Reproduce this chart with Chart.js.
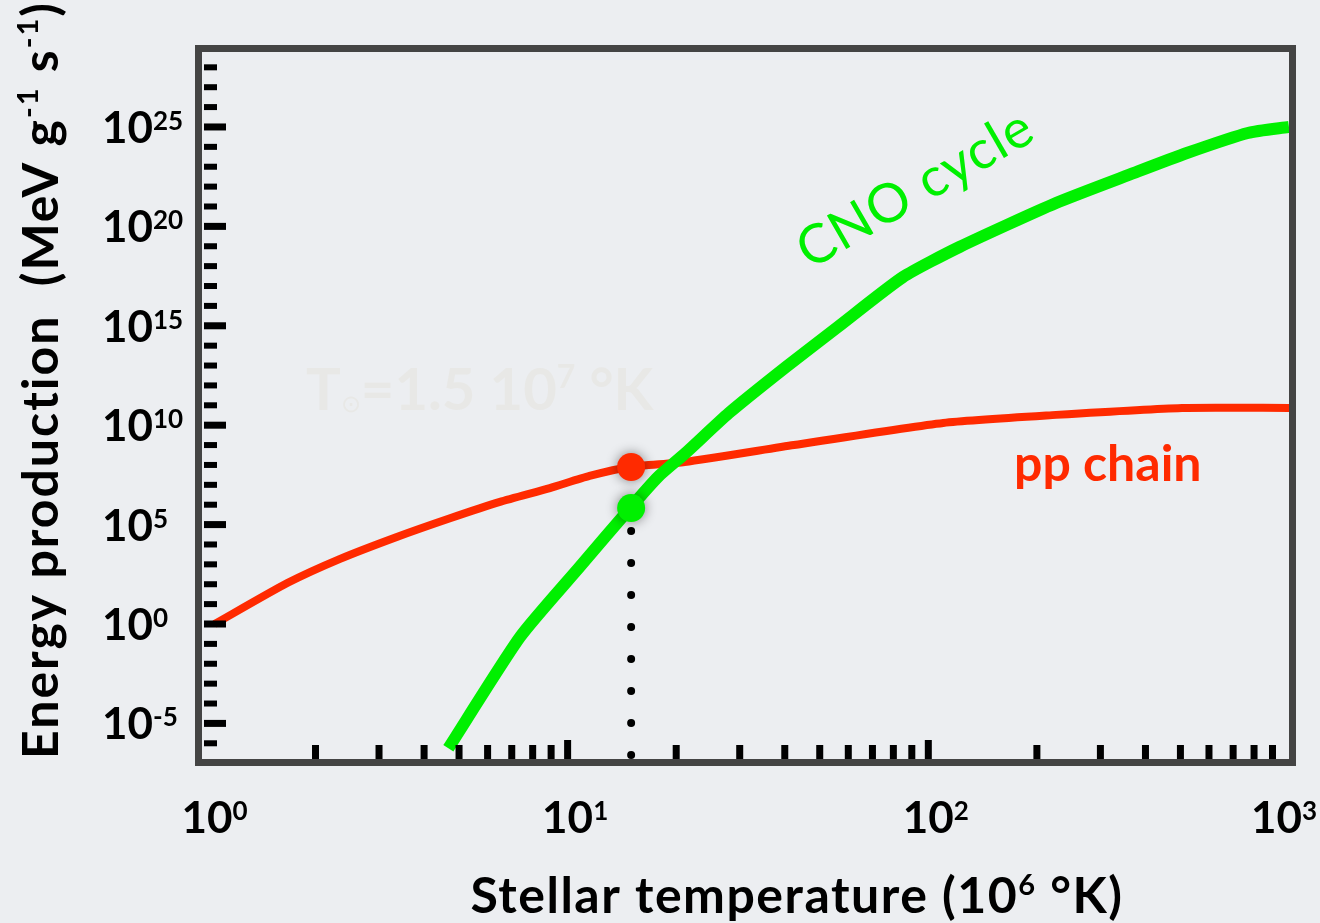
<!DOCTYPE html>
<html lang="en">
<head>
<meta charset="UTF-8">
<title>Energy production: pp chain and CNO cycle</title>
<script src="https://cdn.jsdelivr.net/npm/chart.js"></script>
<style>
    body { margin: 0; background: #eceef1; }
    canvas { display: block; }
</style>
</head>
<body>
<canvas id="rateChart" width="1320" height="923"></canvas>

<script>
    // stellar temperature in units of 10^6 K, energy production in MeV g^-1 s^-1
    const ppTemp  = [1.05, 1.67, 2.34, 3.36, 4.72, 6.49, 8.93, 11.5, 14.9, 21.1, 42.4, 110, 226, 505, 1000];
    const ppRate  = [1, 1.15e2, 1.9e3, 2.4e4, 2.1e5, 1.4e6, 6.9e6, 2.8e7, 7.9e7, 1.4e8, 1.0e9, 1.3e10, 3.3e10, 7.4e10, 7.4e10];

    const cnoTemp = [4.67, 7.38, 10.8, 14.9, 17.8, 21.2, 28.0, 40.3, 56.1, 85.0, 122, 226, 372, 521, 769, 1000];
    const cnoRate = [5.6e-7, 0.22, 7.4e2, 6.8e5, 2.5e7, 3.9e8, 4.1e10, 8.5e12, 8.7e14, 2.8e17, 9.2e18, 1.5e21, 4.9e22, 4.9e23, 5.0e24, 1.0e25];

    // the Sun's core, 1.5 10^7 K
    const sunTemp = 15;
    const sunPp = 7.9e7;
    const sunCno = 6.8e5;
    const guideBottom = 2.6e-7;

    // axis ticks (labels are powers of ten)
    const xLabelExp = [0, 1, 2, 3];
    const yLabelExp = [-5, 0, 5, 10, 15, 20, 25];
    const xMajorTicks = [10, 100];
    const xMinorTicks = [2, 3, 4, 5, 6, 7, 8, 9, 20, 30, 40, 50, 60, 70, 80, 90, 200, 300, 400, 500, 600, 700, 800, 900];
    const yTickExp = [];
    for (let e = -6; e <= 28; e++) yTickExp.push(e);

    const RED = '#ff2a00';
    const GREEN = '#00f000';
    const FONT = 'Lato';

    function runFont(r) {
        return (r.weight || 'bold') + ' ' + r.size + 'px ' + FONT;
    }
    function runsWidth(ctx, runs) {
        let w = 0;
        runs.forEach(r => { ctx.font = runFont(r); w += ctx.measureText(r.t).width; });
        return w;
    }
    // draws text pieces one after another, superscripts get a rise
    function drawRuns(ctx, runs, x, y) {
        let cx = x;
        ctx.textAlign = 'left';
        ctx.textBaseline = 'alphabetic';
        runs.forEach(r => {
            ctx.font = runFont(r);
            ctx.fillText(r.t, cx, y - (r.rise || 0));
            cx += ctx.measureText(r.t).width;
        });
    }

    const decorations = {
        id: 'decorations',
        beforeDatasetsDraw(chart) {
            const ctx = chart.ctx;
            // faint note behind the curves
            ctx.save();
            ctx.fillStyle = '#e8e8e6';
            drawRuns(ctx, [
                {t: 'T', size: 58},
                {t: '\u2299', size: 24, rise: -2, weight: 'normal'},
                {t: '=1.5 10', size: 58},
                {t: '7', size: 32, rise: 22},
                {t: ' \u00b0K', size: 58}
            ], 306, 410);
            ctx.restore();
        },
        beforeDatasetDraw(chart, args) {
            if (args.index === 3) {
                const ctx = chart.ctx;
                ctx.save();
                ctx.shadowColor = 'rgba(0,0,0,0.45)';
                ctx.shadowBlur = 12;
            }
        },
        afterDatasetDraw(chart, args) {
            if (args.index === 3) chart.ctx.restore();
        },
        afterDatasetsDraw(chart) {
            const ctx = chart.ctx;
            const area = chart.chartArea;
            const xs = chart.scales.x;
            const ys = chart.scales.y;
            ctx.save();
            ctx.fillStyle = '#000';
            // ticks on the inside of the frame
            yTickExp.forEach(e => {
                const py = ys.getPixelForValue(Math.pow(10, e));
                const major = e % 5 === 0;
                const len = major ? 22 : 13;
                const th = major ? 7 : 6;
                ctx.fillRect(area.left + 2, py - th / 2, len, th);
            });
            xMinorTicks.forEach(v => {
                const px = xs.getPixelForValue(v);
                ctx.fillRect(px - 3.5, area.bottom - 14, 7, 14);
            });
            xMajorTicks.forEach(v => {
                const px = xs.getPixelForValue(v);
                ctx.fillRect(px - 3.5, area.bottom - 19, 7, 19);
            });
            // frame
            ctx.strokeStyle = '#444444';
            ctx.lineWidth = 7;
            ctx.strokeRect(area.left - 3.5, area.top - 3.5, area.right - area.left + 7, area.bottom - area.top + 7);
            ctx.restore();
        },
        afterDraw(chart) {
            const ctx = chart.ctx;
            const xs = chart.scales.x;
            const ys = chart.scales.y;
            const W = chart.width;
            ctx.save();
            ctx.fillStyle = '#000';

            // y tick labels
            yLabelExp.forEach(e => {
                const py = ys.getPixelForValue(Math.pow(10, e));
                drawRuns(ctx, [{t: '10', size: 44}, {t: String(e), size: 26, rise: 13}], 102, py + 16);
            });

            // x tick labels, "10" centred on the tick
            xLabelExp.forEach(e => {
                const px = xs.getPixelForValue(Math.pow(10, e));
                const runs = [{t: '10', size: 44}, {t: String(e), size: 26, rise: 13}];
                ctx.font = runFont(runs[0]);
                let left = px - ctx.measureText('10').width / 2;
                const w = runsWidth(ctx, runs);
                if (left + w > W - 3) left = W - 3 - w;
                drawRuns(ctx, runs, left, 833);
            });

            // axis titles
            ctx.letterSpacing = '1.5px';
            const xTitle = [
                {t: 'Stellar temperature (10', size: 50},
                {t: '6', size: 29, rise: 18},
                {t: ' \u00b0K)', size: 50}
            ];
            drawRuns(ctx, xTitle, 797 - runsWidth(ctx, xTitle) / 2, 913);

            ctx.letterSpacing = '2px';
            const yTitle = [
                {t: 'Energy production  (MeV g', size: 50},
                {t: '-1', size: 29, rise: 20},
                {t: ' s', size: 50},
                {t: '-1', size: 29, rise: 20},
                {t: ')', size: 50}
            ];
            ctx.save();
            ctx.translate(58, 380);
            ctx.rotate(-Math.PI / 2);
            drawRuns(ctx, yTitle, -runsWidth(ctx, yTitle) / 2, 0);
            ctx.restore();
            ctx.letterSpacing = '0px';

            // curve labels
            ctx.fillStyle = RED;
            ctx.font = 'bold 50px ' + FONT;
            ctx.textAlign = 'left';
            ctx.fillText('pp chain', 1014, 481);

            ctx.save();
            ctx.fillStyle = GREEN;
            ctx.translate(810, 270);
            ctx.rotate(-30 * Math.PI / 180);
            ctx.letterSpacing = '1px';
            ctx.font = 'normal 54px ' + FONT;
            ctx.fillText('CNO cycle', 0, 0);
            ctx.restore();

            ctx.restore();
        }
    };

    const toPoints = (xs, ys) => xs.map((x, i) => ({x: x, y: ys[i]}));

    const ctx = document.getElementById('rateChart').getContext('2d');
    const rateChart = new Chart(ctx, {
        type: 'line',
        data: {
            datasets: [
                {
                    label: 'pp chain',
                    data: toPoints(ppTemp, ppRate),
                    borderColor: RED,
                    borderWidth: 8,
                    pointRadius: 0,
                    tension: 0.2,
                    order: 3
                },
                {
                    label: 'CNO cycle',
                    data: toPoints(cnoTemp, cnoRate),
                    borderColor: GREEN,
                    borderWidth: 12,
                    pointRadius: 0,
                    tension: 0.2,
                    order: 2
                },
                {
                    label: 'Sun',
                    data: [{x: sunTemp, y: guideBottom}, {x: sunTemp, y: sunCno}],
                    borderColor: '#000',
                    borderWidth: 8,
                    borderDash: [0, 32],
                    borderCapStyle: 'round',
                    pointRadius: 0,
                    order: 1
                },
                {
                    label: 'Sun markers',
                    data: [{x: sunTemp, y: sunPp}, {x: sunTemp, y: sunCno}],
                    showLine: false,
                    pointRadius: 14,
                    pointBorderWidth: 0,
                    pointBackgroundColor: [RED, GREEN],
                    order: 0
                }
            ]
        },
        options: {
            responsive: false,
            animation: false,
            devicePixelRatio: 1,
            events: [],
            layout: {
                padding: {left: 202, right: 31, top: 52, bottom: 164}
            },
            plugins: {
                legend: {display: false},
                tooltip: {enabled: false}
            },
            scales: {
                x: {
                    type: 'logarithmic',
                    display: false,
                    min: 0.969,
                    max: 1000
                },
                y: {
                    type: 'logarithmic',
                    display: false,
                    min: 1.62e-7,
                    max: 5.9e28
                }
            }
        },
        plugins: [decorations]
    });
</script>
</body>
</html>
